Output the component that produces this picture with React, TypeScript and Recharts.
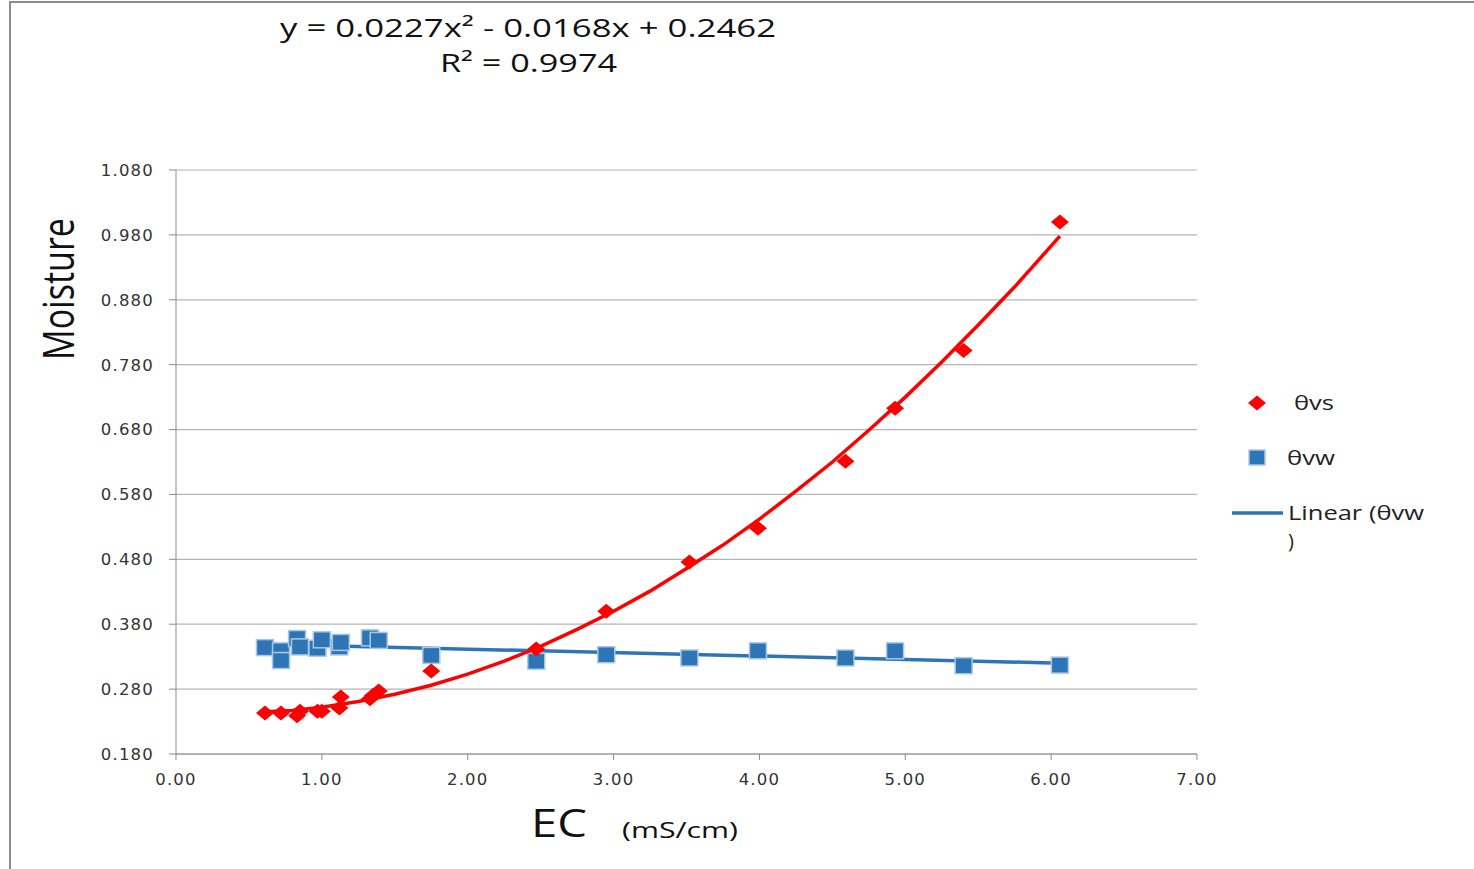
import React from 'react';
import {
    ScatterChart,
    Scatter,
    XAxis,
    YAxis,
    CartesianGrid,
    Legend
} from 'recharts';

// EC (mS/cm) and moisture readings
const ecVs = [0.61, 0.72, 0.83, 0.85, 0.97, 1.0, 1.12, 1.13, 1.33, 1.35, 1.39, 1.75, 2.47, 2.95, 3.52, 3.99, 4.59, 4.93, 5.4, 6.06];
const thetaVs = [0.243, 0.243, 0.239, 0.246, 0.246, 0.246, 0.251, 0.268, 0.265, 0.27, 0.277, 0.308, 0.342, 0.4, 0.476, 0.528, 0.631, 0.713, 0.802, 1.0];

const ecVw = [0.61, 0.72, 0.72, 0.83, 0.85, 0.97, 1.0, 1.12, 1.13, 1.33, 1.39, 1.75, 2.47, 2.95, 3.52, 3.99, 4.59, 4.93, 5.4, 6.06];
const thetaVw = [0.344, 0.339, 0.324, 0.358, 0.345, 0.343, 0.356, 0.345, 0.352, 0.359, 0.355, 0.332, 0.323, 0.333, 0.328, 0.339, 0.328, 0.339, 0.316, 0.317];

// polynomial trend line of θvs, as drawn
const ecFitVs = [0.61, 0.8, 1.0, 1.25, 1.5, 1.75, 2.0, 2.25, 2.5, 2.75, 3.0, 3.25, 3.5, 3.75, 4.0, 4.25, 4.5, 4.75, 5.0, 5.25, 5.5, 5.75, 6.06];
const fitVs = [0.245, 0.247, 0.252, 0.261, 0.272, 0.286, 0.303, 0.323, 0.346, 0.372, 0.4, 0.431, 0.466, 0.502, 0.542, 0.585, 0.63, 0.679, 0.73, 0.784, 0.841, 0.9, 0.978];

// linear trend line of θvw
const ecFitVw = [0.61, 6.06];
const fitVw = [0.349, 0.32];

const xTicks = [0, 1, 2, 3, 4, 5, 6, 7];
const yTicks = [0.18, 0.28, 0.38, 0.48, 0.58, 0.68, 0.78, 0.88, 0.98, 1.08];

const zip = (xs: number[], ys: number[]) => xs.map((x, i) => ({ x, y: ys[i] }));

const RED = '#ff0000';
const BLUE = '#2e75b6';
const AXIS = '#8c8c8c';
const TICK_FONT = '"DejaVu Sans", sans-serif';
const LABEL_FONT = '"Open Sans", sans-serif';

const Diamond = (props: any) => {
    const { cx, cy } = props;
    return <polygon points={`${cx - 9},${cy} ${cx},${cy - 7.5} ${cx + 9},${cy} ${cx},${cy + 7.5}`} fill={RED} />;
};

const Square = (props: any) => {
    const { cx, cy } = props;
    return <rect x={cx - 8.5} y={cy - 8} width={17} height={16} fill={BLUE} stroke="#a9c8e8" strokeWidth={1.5} />;
};

const NoShape = () => <g />;

const YTick = ({ x, y, payload }: any) => (
    <text x={x} y={y} dy="0.36em" textAnchor="end" fontFamily={TICK_FONT} fontSize={16.5} letterSpacing={1.2} fill="#333">
        {payload.value.toFixed(3)}
    </text>
);

const XTick = ({ x, y, payload }: any) => (
    <text x={x} y={y} dy="0.71em" textAnchor="middle" fontFamily={TICK_FONT} fontSize={16.5} letterSpacing={1.2} fill="#333">
        {payload.value.toFixed(2)}
    </text>
);

const LegendBox = () => (
    <svg width={254} height={180} style={{ display: 'block' }}>
        <polygon points="28,23 37,15.5 46,23 37,30.5" fill={RED} />
        <text x={74} y={30} fontFamily={LABEL_FONT} fontSize={20} textLength={40} lengthAdjust="spacingAndGlyphs" fill="#222">θvs</text>
        <rect x={29} y={70} width={16} height={15} fill={BLUE} stroke="#a9c8e8" strokeWidth={1.5} />
        <text x={67} y={85} fontFamily={LABEL_FONT} fontSize={20} textLength={48} lengthAdjust="spacingAndGlyphs" fill="#222">θvw</text>
        <line x1={12} y1={133} x2={63} y2={133} stroke={BLUE} strokeWidth={3.5} />
        <text x={68} y={140} fontFamily={LABEL_FONT} fontSize={20} textLength={136} lengthAdjust="spacingAndGlyphs" fill="#222">Linear (θvw</text>
        <text x={68} y={168} fontFamily={LABEL_FONT} fontSize={20} fill="#222">)</text>
    </svg>
);

export default function App() {
    return (
        <div style={{ position: 'absolute', left: 0, top: 0, width: 1474, height: 869, background: '#fff', overflow: 'hidden' }}>
            {/* frame of the original chart area */}
            <div style={{ position: 'absolute', left: 9, top: 1, width: 1474, height: 869, borderLeft: `2px solid ${AXIS}`, borderTop: `2px solid ${AXIS}` }} />
            {/* the legend's 254px width is added to the right margin by recharts */}
            <ScatterChart width={1474} height={869} margin={{ top: 170, right: 23, bottom: 85, left: 0 }} style={{ position: 'absolute', left: 0, top: 0 }}>
                <CartesianGrid vertical={false} stroke="#b4b4b4" strokeWidth={1.2} />
                <XAxis
                    type="number"
                    dataKey="x"
                    domain={[0, 7]}
                    ticks={xTicks}
                    height={30}
                    stroke={AXIS}
                    tickSize={6}
                    tickMargin={13}
                    tick={<XTick />}
                    allowDataOverflow
                />
                <YAxis
                    type="number"
                    dataKey="y"
                    domain={[0.18, 1.08]}
                    ticks={yTicks}
                    width={176}
                    stroke={AXIS}
                    tickSize={7}
                    tickMargin={15}
                    tick={<YTick />}
                    allowDataOverflow
                />
                <Legend content={<LegendBox />} wrapperStyle={{ position: 'absolute', left: 1220, top: 380, width: 254, height: 180 }} layout="horizontal" verticalAlign="middle" align="right" />
                <Scatter name="fit θvw" data={zip(ecFitVw, fitVw)} line={{ stroke: BLUE, strokeWidth: 3.5 }} lineType="joint" shape={<NoShape />} legendType="none" isAnimationActive={false} />
                <Scatter name="θvw" data={zip(ecVw, thetaVw)} shape={<Square />} isAnimationActive={false} />
                <Scatter name="fit θvs" data={zip(ecFitVs, fitVs)} line={{ stroke: RED, strokeWidth: 3.5 }} lineType="joint" shape={<NoShape />} legendType="none" isAnimationActive={false} />
                <Scatter name="θvs" data={zip(ecVs, thetaVs)} shape={<Diamond />} isAnimationActive={false} />
            </ScatterChart>
            {/* trend equation and axis titles */}
            <svg width={1474} height={869} style={{ position: 'absolute', left: 0, top: 0, pointerEvents: 'none' }}>
                <text x={280} y={37} fontFamily={LABEL_FONT} fontSize={26} textLength={496} lengthAdjust="spacingAndGlyphs" fill="#111">
                    y = 0.0227x² - 0.0168x + 0.2462
                </text>
                <text x={440} y={72} fontFamily={LABEL_FONT} fontSize={26} textLength={177} lengthAdjust="spacingAndGlyphs" fill="#111">
                    R² = 0.9974
                </text>
                <text transform="translate(74,289) rotate(-90)" textAnchor="middle" fontFamily={LABEL_FONT} fontSize={44} textLength={142} lengthAdjust="spacingAndGlyphs" fill="#111">
                    Moisture
                </text>
                <text x={531} y={837} fontFamily={LABEL_FONT} fontSize={38} textLength={56} lengthAdjust="spacingAndGlyphs" fill="#111">EC</text>
                <text x={622} y={838} fontFamily={LABEL_FONT} fontSize={22} textLength={116} lengthAdjust="spacingAndGlyphs" fill="#111">(mS/cm)</text>
            </svg>
        </div>
    );
}
